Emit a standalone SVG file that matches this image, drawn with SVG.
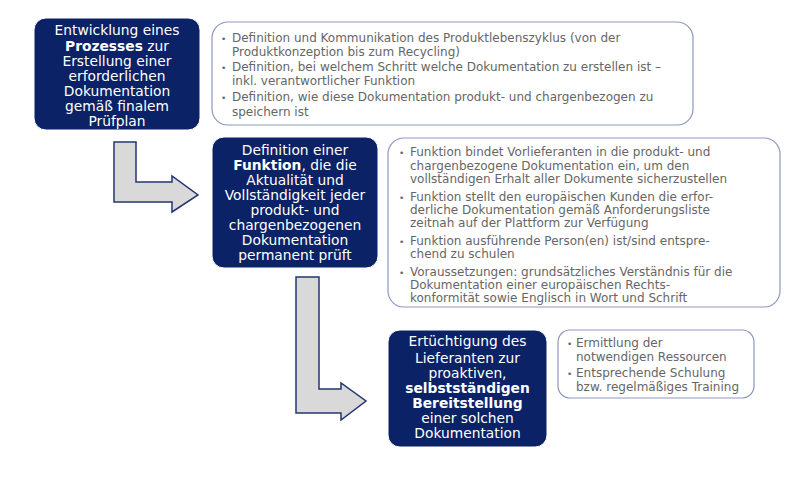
<svg xmlns="http://www.w3.org/2000/svg" width="800" height="477" viewBox="0 0 800 477">
<style>
.node{fill:#0b2266;stroke:#ffffff;stroke-width:1}
.wt{font-family:"DejaVu Sans",Verdana,sans-serif;font-size:13.8px;fill:#ffffff;text-anchor:middle}
.b{font-weight:bold}
.note{fill:#ffffff;stroke:#8e97bb;stroke-width:1.2}
.gt{font-family:"DejaVu Sans",Verdana,sans-serif;font-size:12px;fill:#666666}
.bul{font-size:9px}
.arrow{fill:#d9d9d9;stroke:#243470;stroke-width:1.5;stroke-linejoin:miter}
</style>
<rect width="800" height="477" fill="#ffffff"/>
<g id="connectors">
<path class="arrow" d="M114,142 H136 V182 H172 V176 L198,195 L172,212 V202 H114 Z"/>
<path class="arrow" d="M296,277 H319 V389 H341 V383 L366,401 L341,420 V413 H296 Z"/>
</g>
<g id="node1">
<rect class="node" x="34" y="18" width="166" height="112" rx="12"/>
<text class="wt" x="117" y="35">Entwicklung eines</text>
<text class="wt" x="117" y="51"><tspan class="b">Prozesses</tspan> zur</text>
<text class="wt" x="117" y="66">Erstellung einer</text>
<text class="wt" x="117" y="81">erforderlichen</text>
<text class="wt" x="117" y="96">Dokumentation</text>
<text class="wt" x="117" y="111">gemäß finalem</text>
<text class="wt" x="117" y="126">Prüfplan</text>
</g>
<g id="note1">
<rect class="note" x="212" y="22" width="481" height="103" rx="16"/>
<text class="gt" x="221" y="42"><tspan class="bul">•</tspan></text>
<text class="gt" x="232" y="42">Definition und Kommunikation des Produktlebenszyklus (von der</text>
<text class="gt" x="232" y="56">Produktkonzeption bis zum Recycling)</text>
<text class="gt" x="221" y="71"><tspan class="bul">•</tspan></text>
<text class="gt" x="232" y="71">Definition, bei welchem Schritt welche Dokumentation zu erstellen ist –</text>
<text class="gt" x="232" y="85">inkl. verantwortlicher Funktion</text>
<text class="gt" x="221" y="101"><tspan class="bul">•</tspan></text>
<text class="gt" x="232" y="101">Definition, wie diese Dokumentation produkt- und chargenbezogen zu</text>
<text class="gt" x="232" y="116">speichern ist</text>
</g>
<g id="node2">
<rect class="node" x="212" y="137" width="166" height="131" rx="12"/>
<text class="wt" x="295" y="155">Definition einer</text>
<text class="wt" x="295" y="170"><tspan class="b">Funktion</tspan>, die die</text>
<text class="wt" x="295" y="185">Aktualität und</text>
<text class="wt" x="295" y="200">Vollständigkeit jeder</text>
<text class="wt" x="295" y="215">produkt- und</text>
<text class="wt" x="295" y="230">chargenbezogenen</text>
<text class="wt" x="295" y="245">Dokumentation</text>
<text class="wt" x="295" y="260">permanent prüft</text>
</g>
<g id="note2">
<rect class="note" x="388" y="138" width="392" height="169" rx="16"/>
<text class="gt" x="399" y="156"><tspan class="bul">•</tspan></text>
<text class="gt" x="410" y="156">Funktion bindet Vorlieferanten in die produkt- und</text>
<text class="gt" x="410" y="170">chargenbezogene Dokumentation ein, um den</text>
<text class="gt" x="410" y="183">vollständigen Erhalt aller Dokumente sicherzustellen</text>
<text class="gt" x="399" y="201"><tspan class="bul">•</tspan></text>
<text class="gt" x="410" y="201">Funktion stellt den europäischen Kunden die erfor-</text>
<text class="gt" x="410" y="214">derliche Dokumentation gemäß Anforderungsliste</text>
<text class="gt" x="410" y="227">zeitnah auf der Plattform zur Verfügung</text>
<text class="gt" x="399" y="245"><tspan class="bul">•</tspan></text>
<text class="gt" x="410" y="245">Funktion ausführende Person(en) ist/sind entspre-</text>
<text class="gt" x="410" y="258">chend zu schulen</text>
<text class="gt" x="399" y="276"><tspan class="bul">•</tspan></text>
<text class="gt" x="410" y="276">Voraussetzungen: grundsätzliches Verständnis für die</text>
<text class="gt" x="410" y="289">Dokumentation einer europäischen Rechts-</text>
<text class="gt" x="410" y="302">konformität sowie Englisch in Wort und Schrift</text>
</g>
<g id="node3">
<rect class="node" x="388" y="330" width="159" height="117" rx="12"/>
<text class="wt" x="467.5" y="346">Ertüchtigung des</text>
<text class="wt" x="467.5" y="363">Lieferanten zur</text>
<text class="wt" x="467.5" y="378">proaktiven,</text>
<text class="wt b" x="467.5" y="393">selbstständigen</text>
<text class="wt b" x="467.5" y="408">Bereitstellung</text>
<text class="wt" x="467.5" y="423">einer solchen</text>
<text class="wt" x="467.5" y="438">Dokumentation</text>
</g>
<g id="note3">
<rect class="note" x="558" y="330" width="196" height="68" rx="12"/>
<text class="gt" x="567" y="347"><tspan class="bul">•</tspan></text>
<text class="gt" x="576" y="347">Ermittlung der</text>
<text class="gt" x="576" y="361">notwendigen Ressourcen</text>
<text class="gt" x="567" y="377"><tspan class="bul">•</tspan></text>
<text class="gt" x="576" y="377">Entsprechende Schulung</text>
<text class="gt" x="576" y="391">bzw. regelmäßiges Training</text>
</g>
</svg>
